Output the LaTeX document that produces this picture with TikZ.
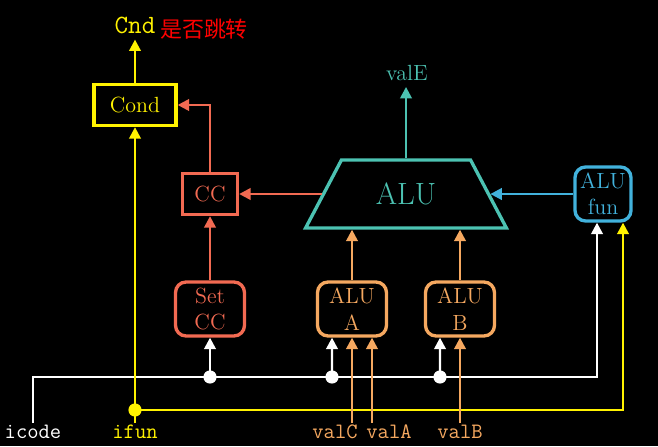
\documentclass[tikz,border=0pt]{standalone}
\usepackage{fontspec}
\usetikzlibrary{arrows.meta,shapes.geometric}
\newfontfamily\cjk{Noto Sans CJK SC}
\definecolor{ccyel}{HTML}{FFF200}
\definecolor{ccred}{HTML}{F26A52}
\definecolor{ccteal}{HTML}{4CC2B2}
\definecolor{ccblue}{HTML}{42B2DC}
\definecolor{ccorg}{HTML}{F5A860}

\begin{document}
\begin{tikzpicture}
  [x=0.02cm,y=-0.02cm,
   box/.style={draw,line width=1.9pt,align=center,inner sep=0pt,font=\fontsize{12.5}{15}\selectfont},
   rbox/.style={box,rounded corners=6pt,minimum width=1.38cm,minimum height=1.08cm},
   lbl/.style={font=\fontsize{12.5}{14}\ttfamily,inner sep=1pt},
   wire/.style={line width=1.4pt,-{Triangle[length=6.5pt,width=6.5pt]}},
   dot/.style={circle,fill=white,inner sep=0pt,minimum size=7.5pt}]
  \fill[black] (0,0) rectangle (658,446);
  \useasboundingbox (0,0) rectangle (658,446);

  \node[box,ccyel,minimum width=1.64cm,minimum height=0.82cm] (cond) at (135,105) {Cond};
  \node[box,ccred,minimum width=1.1cm,minimum height=0.82cm] (cc) at (210,194) {CC};
  \node[rbox,ccred] (setcc) at (210,309) {Set\\CC};
  \node[rbox,ccorg] (aluA) at (352,309) {ALU\\A};
  \node[rbox,ccorg] (aluB) at (460,309) {ALU\\B};
  \node[rbox,ccblue,minimum width=1.12cm] (alufun) at (603,194) {ALU\\fun};
  \node[draw=ccteal,text=ccteal,line width=1.9pt,trapezium,trapezium stretches=true,
        trapezium left angle=59.5,trapezium right angle=59.5,
        minimum width=4.04cm,minimum height=1.36cm,
        font=\fontsize{17.5}{20}\selectfont] (alu) at (406,194) {ALU};

  \node[ccyel,font=\fontsize{15}{17}\ttfamily] (cnd) at (135,25) {Cnd};
  \node[red,font=\fontsize{12.5}{15}\cjk] (jump) at (204,29) {是否跳转};
  \node[ccteal,font=\fontsize{12.5}{14}\selectfont] (vale) at (407,73) {valE};

  \node[lbl,white] (icode) at (33,432) {icode};
  \node[lbl,ccyel] (ifun) at (135,432) {ifun};
  \node[lbl,ccorg] (valC) at (335,432) {valC};
  \node[lbl,ccorg] (valA) at (389,432) {valA};
  \node[lbl,ccorg] (valB) at (460,432) {valB};

  \node[dot] (j1) at (210,377) {};
  \node[dot] (j2) at (332,377) {};
  \node[dot] (j3) at (440,377) {};
  \node[dot,fill=ccyel] (jf) at (135,410) {};
  \coordinate (ainA) at ([xshift=0.4cm]aluA.south);

  % icode
  \draw[wire,white,-] (icode.north) |- (j1.center) -- (j3.center);
  \draw[wire,white] (j3.center) -| ([xshift=-0.12cm]alufun.south);
  \foreach \j/\b/\dx in {j1/setcc/0, j2/aluA/-0.4, j3/aluB/-0.4}
    \draw[wire,white] (\j.center) -- ([xshift=\dx cm]\b.south);

  % ifun
  \draw[wire,ccyel] (ifun.north) -- (cond.south);
  \draw[wire,ccyel] (jf.center) -| ([xshift=0.4cm]alufun.south);
  \draw[wire,ccyel] (cond.north) -- (cnd.south);

  % operands
  \draw[wire,ccorg] (valC.north -| aluA.south) -- (aluA.south);
  \draw[wire,ccorg] (valA.north -| ainA) -- (ainA);
  \draw[wire,ccorg] (valB.north) -- (aluB.south);
  \foreach \b in {aluA,aluB}
    \draw[wire,ccorg] (\b.north) -- (\b.north |- alu.south);

  % alu
  \draw[wire,ccblue] (alufun.west) -- (alu.right side);
  \draw[wire,ccred] (alu.left side) -- (cc.east);
  \draw[wire,ccteal] (alu.north) -- (alu.north |- vale.south);
  \draw[wire,ccred] (setcc.north) -- (cc.south);
  \draw[wire,ccred] (cc.north) |- (cond.east);

\end{tikzpicture}
\end{document}
